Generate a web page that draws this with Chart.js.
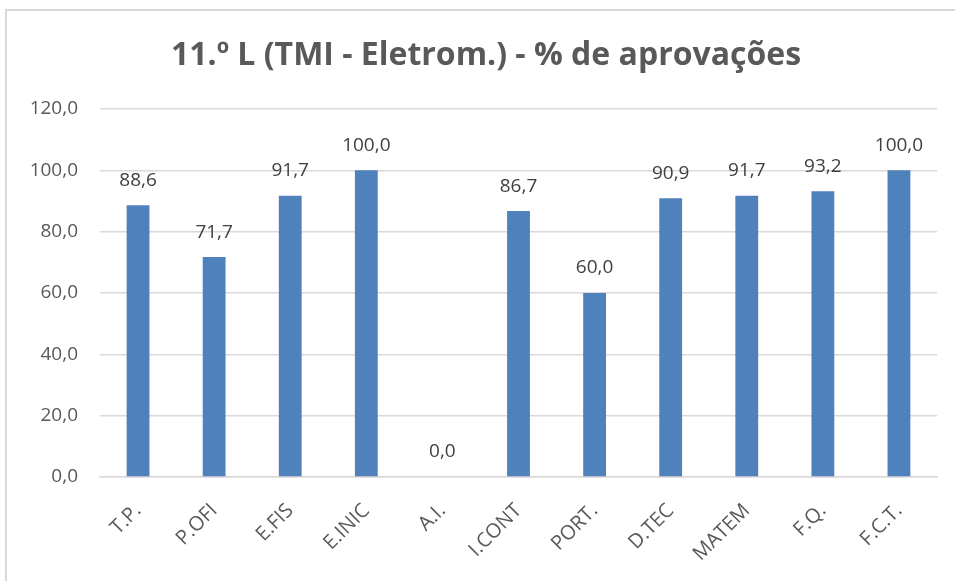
<!DOCTYPE html>
<html>
<head>
<meta charset="utf-8">
<script src="https://cdn.jsdelivr.net/npm/chart.js@4/dist/chart.umd.min.js"></script>
<style>
  html, body { margin: 0; padding: 0; background: #ffffff; }
  canvas { display: block; }
</style>
</head>
<body>
<canvas id="chart" width="955" height="581"></canvas>
<script>
// Disciplinas e percentagem de aprovações
const categories = ['T.P.', 'P.OFI', 'E.FIS', 'E.INIC', 'A.I.', 'I.CONT', 'PORT.', 'D.TEC', 'MATEM', 'F.Q.', 'F.C.T.'];
const approvals = [88.6, 71.7, 91.7, 100.0, 0.0, 86.7, 60.0, 90.9, 91.7, 93.2, 100.0];
const yTicks = [0, 20, 40, 60, 80, 100, 120];
const chartTitle = '11.º L (TMI - Eletrom.) - % de aprovações';

const fmt = v => Number(v).toFixed(1).replace('.', ',');
const FONT = '"Open Sans", "Noto Sans", sans-serif';

// Moldura cinzenta do gráfico (esquerda e topo) e título
const framePlugin = {
  id: 'frame',
  beforeDraw(chart) {
    const ctx = chart.ctx;
    ctx.save();
    ctx.strokeStyle = '#d9d9d9';
    ctx.lineWidth = 2;
    ctx.beginPath();
    ctx.moveTo(6, 581);
    ctx.lineTo(6, 10);
    ctx.lineTo(955, 10);
    ctx.stroke();
    ctx.font = 'bold 32px ' + FONT;
    ctx.fillStyle = '#595959';
    ctx.textAlign = 'center';
    ctx.textBaseline = 'alphabetic';
    ctx.fillText(chartTitle, 486, 65);
    ctx.restore();
  }
};

// Rótulos de valor acima de cada barra
const valueLabels = {
  id: 'valueLabels',
  afterDatasetsDraw(chart) {
    const ctx = chart.ctx;
    const meta = chart.getDatasetMeta(0);
    ctx.save();
    ctx.font = '19px ' + FONT;
    ctx.fillStyle = '#404040';
    ctx.textAlign = 'center';
    ctx.textBaseline = 'middle';
    meta.data.forEach((bar, i) => {
      ctx.fillText(fmt(approvals[i]), bar.x, bar.y - 25);
    });
    ctx.restore();
  }
};

new Chart(document.getElementById('chart'), {
  type: 'bar',
  data: {
    labels: categories,
    datasets: [{
      data: approvals,
      backgroundColor: '#4f81bd',
      borderWidth: 0,
      barPercentage: 0.6,
      categoryPercentage: 0.5
    }]
  },
  options: {
    responsive: false,
    animation: false,
    devicePixelRatio: 1,
    layout: { padding: { left: 0, right: 18, top: 109, bottom: 0 } },
    plugins: {
      legend: { display: false },
      tooltip: { enabled: false },
      title: { display: false }
    },
    scales: {
      x: {
        grid: { display: false },
        border: { display: true, color: '#d9d9d9', width: 1.5 },
        ticks: {
          color: '#595959',
          font: { family: FONT, size: 20 },
          minRotation: 45,
          maxRotation: 45,
          autoSkip: false,
          padding: 14
        },
        afterFit(scale) { scale.height = 104; }
      },
      y: {
        min: 0,
        max: 120,
        afterBuildTicks(scale) { scale.ticks = yTicks.map(v => ({ value: v })); },
        grid: { color: '#d9d9d9', lineWidth: 1.5, drawTicks: false },
        border: { display: false },
        ticks: {
          color: '#595959',
          font: { family: FONT, size: 19 },
          padding: 22,
          callback: v => fmt(v)
        },
        afterFit(scale) { scale.width = 100; }
      }
    }
  },
  plugins: [framePlugin, valueLabels]
});
</script>
</body>
</html>
